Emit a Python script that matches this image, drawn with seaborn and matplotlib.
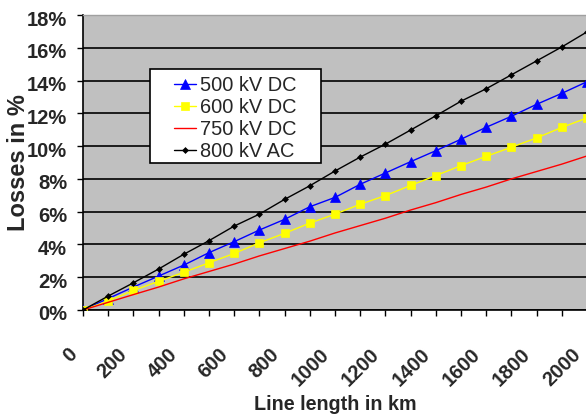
import numpy as np
import pandas as pd
import matplotlib
matplotlib.use("Agg")
import matplotlib.pyplot as plt
import matplotlib.transforms as mtransforms
from matplotlib.patches import Rectangle
import seaborn as sns

# line length in km (category axis, one point every 100 km)
length_km = [0, 100, 200, 300, 400, 500, 600, 700, 800, 900, 1000,
             1100, 1200, 1300, 1400, 1500, 1600, 1700, 1800, 1900, 2000]

# losses in %
loss_500_dc = [0, 0.7, 1.4, 2.07, 2.74, 3.5, 4.17, 4.88, 5.53, 6.3, 6.87,
               7.67, 8.36, 9.05, 9.72, 10.42, 11.15, 11.82, 12.55, 13.22, 13.93]
loss_600_dc = [0, 0.55, 1.19, 1.75, 2.3, 2.88, 3.45, 4.1, 4.68, 5.3, 5.85,
               6.45, 6.98, 7.6, 8.2, 8.81, 9.38, 9.93, 10.5, 11.14, 11.72]
loss_750_dc = [0, 0.47, 0.94, 1.4, 1.9, 2.35, 2.8, 3.3, 3.75, 4.2, 4.7,
               5.15, 5.6, 6.1, 6.55, 7.05, 7.5, 8.0, 8.45, 8.9, 9.4]
loss_800_ac = [0, 0.85, 1.66, 2.5, 3.4, 4.23, 5.12, 5.85, 6.75, 7.58, 8.48,
               9.33, 10.12, 10.98, 11.85, 12.74, 13.5, 14.35, 15.2, 16.05, 16.97]

series_names = ["500 kV DC", "600 kV DC", "750 kV DC", "800 kV AC"]
series_values = [loss_500_dc, loss_600_dc, loss_750_dc, loss_800_ac]

y_ticks = [0, 2, 4, 6, 8, 10, 12, 14, 16, 18]
y_tick_labels = ["0%", "2%", "4%", "6%", "8%", "10%", "12%", "14%", "16%", "18%"]
x_label_every = 200

sns.set_style("white")
plt.rcParams["font.family"] = ["Liberation Sans", "DejaVu Sans"]

styles = {
    "500 kV DC": dict(color="#0000FF", marker="^", ms=6.5),
    "600 kV DC": dict(color="#FFFF00", marker="s", ms=6),
    "750 kV DC": dict(color="#FF0000", marker="", ms=0),
    "800 kV AC": dict(color="#000000", marker="D", ms=3),
}

fig = plt.figure(figsize=(5.86, 4.17), dpi=100)
ax = fig.add_axes([83 / 586, 1 - 310 / 417, 504 / 586, 295 / 417])
ax.set_facecolor("#C0C0C0")

for name, vals in zip(series_names, series_values):
    st = styles[name]
    sns.lineplot(x=length_km, y=vals, ax=ax, color=st["color"], lw=1.0,
                 marker=st["marker"] if st["marker"] else None,
                 markersize=st["ms"], mec=st["color"], mfc=st["color"],
                 mew=0.5, label=name, zorder=3)

ax.set_xlim(0, 2000)
ax.set_ylim(0, 18)

ax.set_yticks(y_ticks)
ax.set_yticklabels(y_tick_labels, fontsize=14.5, fontweight="bold")
ax.set_xticks(length_km)
ax.set_xticklabels([str(v) if v % x_label_every == 0 else "" for v in length_km],
                   fontsize=14.5, fontweight="bold",
                   rotation=45, ha="right", va="baseline", rotation_mode="anchor")

ax.tick_params(axis="y", direction="out", length=4.5, width=1, color="black",
               pad=7, left=True)
ax.tick_params(axis="x", direction="out", length=4.5, width=1, color="black",
               pad=28, bottom=True)
x_off = mtransforms.ScaledTranslation(-0.05, 0, fig.dpi_scale_trans)
for lab in ax.get_xticklabels():
    lab.set_transform(lab.get_transform() + x_off)
y_off = mtransforms.ScaledTranslation(0, -0.03, fig.dpi_scale_trans)
for lab in ax.get_yticklabels():
    lab.set_transform(lab.get_transform() + y_off)

ax.yaxis.grid(True, color="black", lw=1.2)
ax.get_ygridlines()[-1].set_visible(False)
ax.xaxis.grid(False)
ax.set_axisbelow(True)

for s in ["left", "bottom"]:
    ax.spines[s].set_color("black")
    ax.spines[s].set_linewidth(1.2)
ax.spines["top"].set_color("#A0A0A0")
ax.spines["top"].set_linewidth(1)
ax.spines["right"].set_visible(False)

ax.set_ylabel("Losses in %", fontsize=17, fontweight="bold")
ax.yaxis.set_label_coords((30 - 83) / 504, 0.5)
ax.set_xlabel("Line length in km", fontsize=14.2, fontweight="bold", labelpad=4)

# legend: white box with black border
box = Rectangle((150 / 586, 1 - 163 / 417), 171 / 586, 94 / 417,
                transform=fig.transFigure, facecolor="white",
                edgecolor="black", lw=1.2, zorder=4.5)
ax.add_patch(box)
box.set_clip_on(False)
handles, labels = ax.get_legend_handles_labels()
leg = ax.legend(handles, labels, loc="upper left",
                bbox_to_anchor=(174 / 586, 1 - 76 / 417),
                bbox_transform=fig.transFigure, frameon=False,
                fontsize=14.4, handlelength=1.1, handletextpad=0.2,
                labelspacing=0.15, borderpad=0, borderaxespad=0)

fig.savefig("out.png", dpi=100)
